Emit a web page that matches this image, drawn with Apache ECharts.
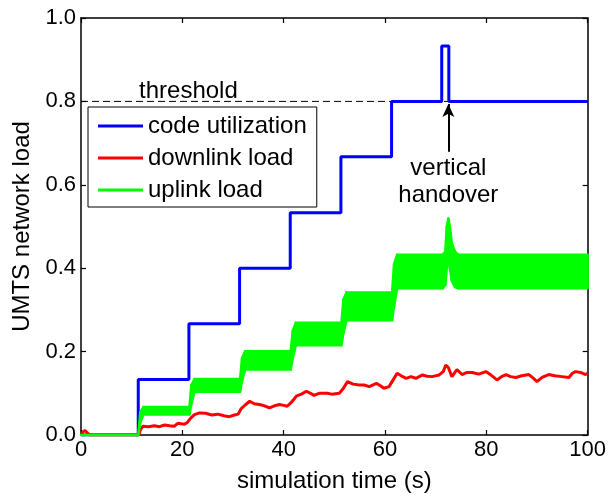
<!DOCTYPE html>
<html>
<head>
<meta charset="utf-8">
<script src="https://cdn.jsdelivr.net/npm/echarts@6/dist/echarts.min.js"></script>
<style>
  html, body { margin: 0; padding: 0; background: #fff; }
  #chart { width: 609px; height: 498px; }
</style>
</head>
<body>
<div id="chart"></div>
<script>
// code utilization: level changes (time, new level)
const codeTimes = [0, 11.3, 21.3, 31.3, 41.3, 51.3, 61.3, 71.2, 72.6];
const codeLevels = [0, 0.133, 0.267, 0.4, 0.533, 0.667, 0.8, 0.933, 0.8];
const endTime = 100;

// downlink load
const redTime = [0, 0.4, 0.8, 1.3, 1.8, 11.4, 11.7, 12.2, 13.3, 14.5, 15.5, 16.5, 17.5, 18.4, 19.1, 20.4, 21.0, 21.6, 22.4, 23.4, 24.6, 25.8, 27, 28.2, 29.3, 30.3, 31.0, 31.6, 32.4, 33.3, 34.2, 35.2, 36.2, 37.2, 38.2, 39.2, 40.0, 40.7, 41.5, 42.5, 43.5, 44.5, 45.3, 46, 47, 48.6, 49.5, 51, 51.8, 52.6, 53.7, 54.9, 55.9, 56.9, 58.3, 59.1, 59.8, 60.8, 61.4, 62.4, 63.2, 64.2, 65.1, 66.1, 67.4, 68.3, 69.3, 70.7, 71.5, 72, 72.5, 73.2, 74.2, 75.2, 76.2, 77.2, 78.5, 79.9, 81, 82.1, 83, 83.9, 84.8, 85.8, 87, 88.4, 89.2, 90, 91, 92.3, 93.5, 94.9, 96.3, 97, 97.6, 98.6, 99.6, 100];
const redLoad = [0, 0.008, 0.011, 0.004, 0, 0, 0.012, 0.021, 0.02, 0.022, 0.02, 0.024, 0.022, 0.021, 0.028, 0.026, 0.03, 0.04, 0.049, 0.053, 0.052, 0.048, 0.05, 0.046, 0.044, 0.048, 0.05, 0.063, 0.072, 0.081, 0.075, 0.073, 0.07, 0.065, 0.07, 0.073, 0.071, 0.069, 0.078, 0.093, 0.098, 0.105, 0.1, 0.095, 0.1, 0.1, 0.098, 0.1, 0.112, 0.128, 0.122, 0.12, 0.12, 0.116, 0.124, 0.118, 0.112, 0.116, 0.128, 0.148, 0.142, 0.136, 0.14, 0.136, 0.144, 0.141, 0.14, 0.144, 0.152, 0.168, 0.162, 0.14, 0.157, 0.145, 0.15, 0.15, 0.146, 0.152, 0.143, 0.132, 0.14, 0.145, 0.14, 0.138, 0.142, 0.145, 0.137, 0.128, 0.138, 0.145, 0.142, 0.14, 0.138, 0.148, 0.152, 0.15, 0.145, 0.148];

// uplink load: the band it oscillates in (lower / upper edge)
const greenTime = [0, 11.3, 11.7, 12.3, 21.4, 21.8, 22.4, 31.4, 31.8, 32.4, 41.4, 41.8, 42.4, 51.4, 51.8, 52.4, 61.4, 61.8, 62.4, 71.4, 71.9, 72.2, 72.5, 72.8, 73.2, 73.8, 74.5, 100];
const greenHigh = [0, 0, 0.055, 0.067, 0.067, 0.12, 0.134, 0.134, 0.185, 0.201, 0.201, 0.25, 0.269, 0.269, 0.325, 0.342, 0.342, 0.41, 0.432, 0.432, 0.44, 0.50, 0.519, 0.50, 0.46, 0.44, 0.432, 0.432];
const greenLow = [0, 0, 0.03, 0.049, 0.049, 0.075, 0.104, 0.104, 0.13, 0.157, 0.157, 0.185, 0.215, 0.215, 0.245, 0.275, 0.275, 0.31, 0.352, 0.352, 0.36, 0.40, 0.425, 0.40, 0.37, 0.355, 0.352, 0.352];

const threshold = 0.8;
const handoverTime = 72.5;
const xTicks = [0, 20, 40, 60, 80, 100];
const yTicks = [0, 0.2, 0.4, 0.6, 0.8, 1.0];

const font = 'Liberation Sans, Arial, sans-serif';

const codeData = [];
codeTimes.forEach((t, i) => {
    if (i > 0) codeData.push([t, codeLevels[i - 1]]);
    codeData.push([t, codeLevels[i]]);
});
codeData.push([endTime, codeLevels[codeLevels.length - 1]]);

const redData = redTime.map((t, i) => [t, redLoad[i]]);
const bandData = greenTime.map((t, i) => [t, greenLow[i], greenHigh[i]]);

const chart = echarts.init(document.getElementById('chart'));

const baseX = {
    type: 'value', min: xTicks[0], max: xTicks[xTicks.length - 1], interval: 20,
    splitLine: { show: false },
    axisLine: { onZero: false, lineStyle: { color: '#000', width: 1.5 } },
    axisTick: { inside: true, length: 5, lineStyle: { color: '#000', width: 1.2 } }
};
const baseY = {
    type: 'value', min: yTicks[0], max: yTicks[yTicks.length - 1], interval: 0.2,
    splitLine: { show: false },
    axisLine: { onZero: false, lineStyle: { color: '#000', width: 1.5 } },
    axisTick: { inside: true, length: 5, lineStyle: { color: '#000', width: 1.2 } }
};

// one quad per segment of the uplink band
function renderBand(params, api) {
    const i = params.dataIndex;
    if (i >= bandData.length - 1) return null;
    const n = bandData[i + 1];
    const pts = [
        api.coord([api.value(0), api.value(2)]),
        api.coord([n[0], n[2]]),
        api.coord([n[0], n[1]]),
        api.coord([api.value(0), api.value(1)])
    ];
    return {
        type: 'polygon',
        shape: { points: pts },
        style: { fill: '#00ff00', stroke: '#00ff00', lineWidth: 2.5, lineJoin: 'round' }
    };
}

chart.setOption({
    animation: false,
    backgroundColor: '#fff',
    grid: { left: 81, right: 20, top: 18, bottom: 59 },
    xAxis: [
        Object.assign({}, baseX, {
            position: 'bottom',
            name: 'simulation time (s)', nameLocation: 'middle', nameGap: 34,
            nameTextStyle: { fontSize: 24, color: '#000', fontFamily: font },
            axisLabel: { fontSize: 22, color: '#000', fontFamily: font, margin: 4 }
        }),
        Object.assign({}, baseX, { position: 'top', axisLabel: { show: false } })
    ],
    yAxis: [
        Object.assign({}, baseY, {
            position: 'left',
            name: 'UMTS network load', nameLocation: 'middle', nameGap: 44,
            nameTextStyle: { fontSize: 24, color: '#000', fontFamily: font },
            axisLabel: { fontSize: 22, color: '#000', fontFamily: font, margin: 5,
                formatter: v => v.toFixed(1) }
        }),
        Object.assign({}, baseY, { position: 'right', axisLabel: { show: false } })
    ],
    legend: {
        data: ['code utilization', 'downlink load', 'uplink load'],
        orient: 'vertical', left: 88, top: 107,
        padding: [7, 10, 5, 10], itemGap: 8,
        itemWidth: 45, itemHeight: 3, icon: 'rect',
        borderColor: '#000', borderWidth: 1, backgroundColor: '#fff',
        textStyle: { fontSize: 24, color: '#000', fontFamily: font, lineHeight: 24 }
    },
    series: [
        {
            name: 'threshold', type: 'line', data: [[0, threshold], [endTime, threshold]],
            symbol: 'none', silent: true, z: 1,
            lineStyle: { color: '#000', width: 1, type: [7, 4] },
            markPoint: {
                symbol: 'rect', symbolSize: 0, silent: true,
                label: { show: true, position: 'inside', formatter: 'threshold',
                    fontSize: 24, color: '#000', fontFamily: font },
                data: [{ coord: [21.2, 0.824] }]
            }
        },
        {
            name: 'code utilization', type: 'line', data: codeData,
            symbol: 'none', z: 2,
            itemStyle: { color: '#0000ff' },
            lineStyle: { color: '#0000ff', width: 3 }
        },
        {
            name: 'downlink load', type: 'line', data: redData,
            symbol: 'none', z: 3,
            itemStyle: { color: '#ff0000' },
            lineStyle: { color: '#ff0000', width: 3 }
        },
        {
            name: 'uplink load', type: 'custom', data: bandData,
            renderItem: renderBand, z: 4, silent: true,
            encode: { x: 0, y: [1, 2] },
            itemStyle: { color: '#00ff00' }
        },
        {
            name: 'handover', type: 'line', data: [], z: 5,
            markLine: {
                silent: true, symbol: ['none', 'arrow'], symbolSize: [9, 13],
                lineStyle: { color: '#000', width: 2, type: 'solid' },
                label: { show: false },
                data: [[{ coord: [handoverTime, 0.679] }, { coord: [handoverTime, 0.794] }]]
            },
            markPoint: {
                symbol: 'rect', symbolSize: 0, silent: true,
                label: { show: true, position: 'inside', formatter: 'vertical\nhandover',
                    fontSize: 24, lineHeight: 27, color: '#000', fontFamily: font },
                data: [{ coord: [handoverTime, 0.607] }]
            }
        }
    ]
});
</script>
</body>
</html>
